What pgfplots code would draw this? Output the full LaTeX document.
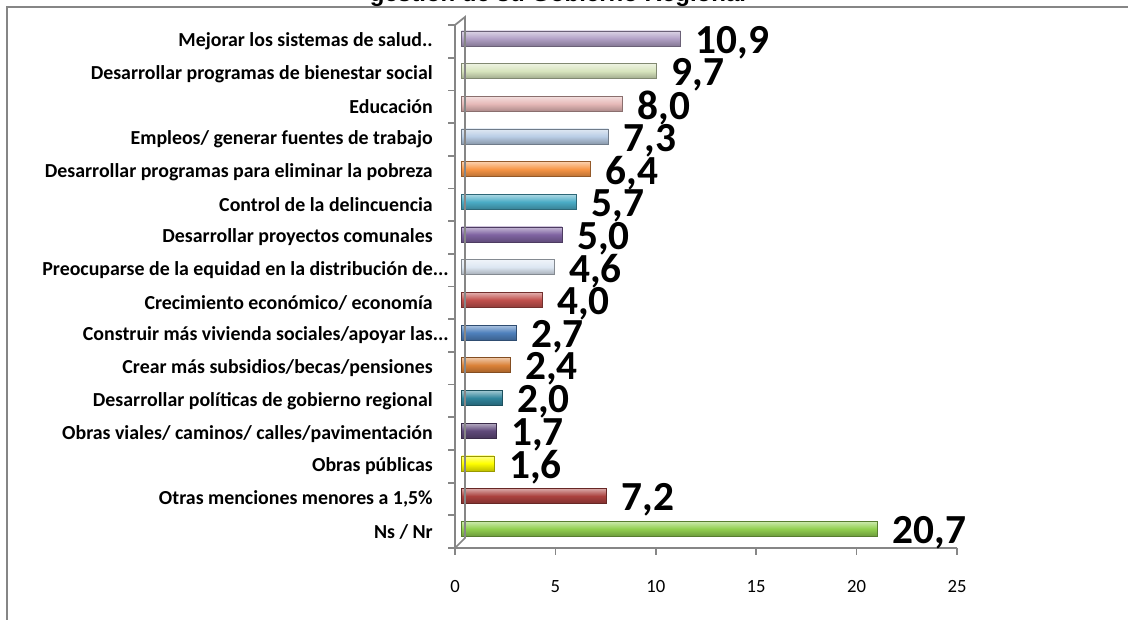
\documentclass[border=0pt]{standalone}
\usepackage{fontspec}
\setmainfont{Carlito}
\newfontfamily\titlefont{Liberation Sans}
\usepackage{pgfplots}
\pgfplotsset{compat=1.18}
\definecolor{axcol}{HTML}{868686}
\definecolor{cA}{HTML}{B3A2C7}
\definecolor{cB}{HTML}{D7E4BD}
\definecolor{cC}{HTML}{E6B9B8}
\definecolor{cD}{HTML}{B9CDE5}
\definecolor{cE}{HTML}{F79646}
\definecolor{cF}{HTML}{4BACC6}
\definecolor{cG}{HTML}{8064A2}
\definecolor{cH}{HTML}{DCE6F2}
\definecolor{cI}{HTML}{C0504D}
\definecolor{cJ}{HTML}{4F81BD}
\definecolor{cK}{HTML}{DA8137}
\definecolor{cL}{HTML}{31859C}
\definecolor{cM}{HTML}{604A7B}
\definecolor{cN}{HTML}{FFFF00}
\definecolor{cO}{HTML}{AB413E}
\definecolor{cP}{HTML}{92D050}
\newcommand{\cbar}[3]{%
\addplot[xbar, bar width=11.25pt, bar shift=0pt, draw=#3!60!black, line width=0.4pt,
  top color=#3!45!white, bottom color=#3!75!black, middle color=#3,
  xshift=5pt, yshift=2.25pt] coordinates {(#2,#1)};}
\begin{document}
\begin{tikzpicture}
\path[use as bounding box] (0,0) rectangle (846pt,-465pt);
\begin{scope}[x=0.75pt,y=-0.75pt]
\draw[axcol, line width=1.5pt] (7,640) -- (7,7) -- (1140,7);
\node[anchor=base, font=\titlefont\bfseries\fontsize{18}{20}\selectfont] at (558,1.5) {gestión de su Gobierno Regional};
\end{scope}
\begin{axis}[
  at={(341.25pt,-411pt)}, anchor=south west,
  scale only axis, width=376.5pt, height=392.25pt,
  xmin=0, xmax=25, ymin=0.5, ymax=16.5, y dir=reverse,
  enlargelimits=false, clip=false,
  axis x line*=bottom, axis y line*=left,
  axis line style={draw=axcol, line width=1.3pt},
  x tick style={draw=axcol, line width=1.3pt},
  tick align=outside, major tick length=5pt,
  xtick={0,5,...,25},
  /pgf/number format/assume math mode=true,
  xticklabel style={font=\fontsize{14}{16}\selectfont, yshift=-16pt},
  ytick={1,2,...,16},
  y tick style={draw=none},
  yticklabels={Mejorar los sistemas de salud..,
    Desarrollar programas de bienestar social,
    Educación,
    Empleos/ generar fuentes de trabajo,
    Desarrollar programas para eliminar la pobreza,
    Control de la delincuencia,
    Desarrollar proyectos comunales,
    Preocuparse de la equidad en la distribución de\rlap{...},
    Crecimiento económico/ economía,
    Construir más vivienda sociales/apoyar las\rlap{...},
    Crear más subsidios/becas/pensiones,
    Desarrollar políticas de gobierno regional,
    Obras viales/ caminos/ calles/pavimentación,
    Obras públicas,
    Otras menciones menores a 1{,}5\%,
    Ns / Nr},
  yticklabel style={font=\bfseries\fontsize{14.9}{16}\selectfont, inner sep=0pt, anchor=east, xshift=-11.5pt},
  nodes near coords={\pgfmathprintnumber[fixed,fixed zerofill,precision=1,use comma,assume math mode=true]{\pgfplotspointmeta}},
  point meta=x,
  every node near coord/.append style={font=\bfseries\fontsize{31}{32}\selectfont, anchor=west, inner sep=0pt, xshift=11.25pt, yshift=-3pt, text=black},
]
\cbar{1}{10.9}{cA}
\cbar{2}{9.7}{cB}
\cbar{3}{8.0}{cC}
\cbar{4}{7.3}{cD}
\cbar{5}{6.4}{cE}
\cbar{6}{5.7}{cF}
\cbar{7}{5.0}{cG}
\cbar{8}{4.6}{cH}
\cbar{9}{4.0}{cI}
\cbar{10}{2.7}{cJ}
\cbar{11}{2.4}{cK}
\cbar{12}{2.0}{cL}
\cbar{13}{1.7}{cM}
\cbar{14}{1.6}{cN}
\cbar{15}{7.2}{cO}
\cbar{16}{20.7}{cP}
\draw[axcol, line width=1.3pt] (axis cs:0,0.5) -- ++(7.5pt,6pt) -- ([xshift=7.5pt,yshift=7.5pt]axis cs:0,16.5) -- (axis cs:0,16.5);
\pgfplotsinvokeforeach{0.5,1.5,2.5,3.5,4.5,5.5,6.5,7.5,8.5,9.5,10.5,11.5,12.5,13.5,14.5,15.5,16.5}{
  \draw[axcol, line width=1.3pt] (axis cs:0,#1) -- ++(-5pt,0pt);
}
\end{axis}
\end{tikzpicture}
\end{document}
